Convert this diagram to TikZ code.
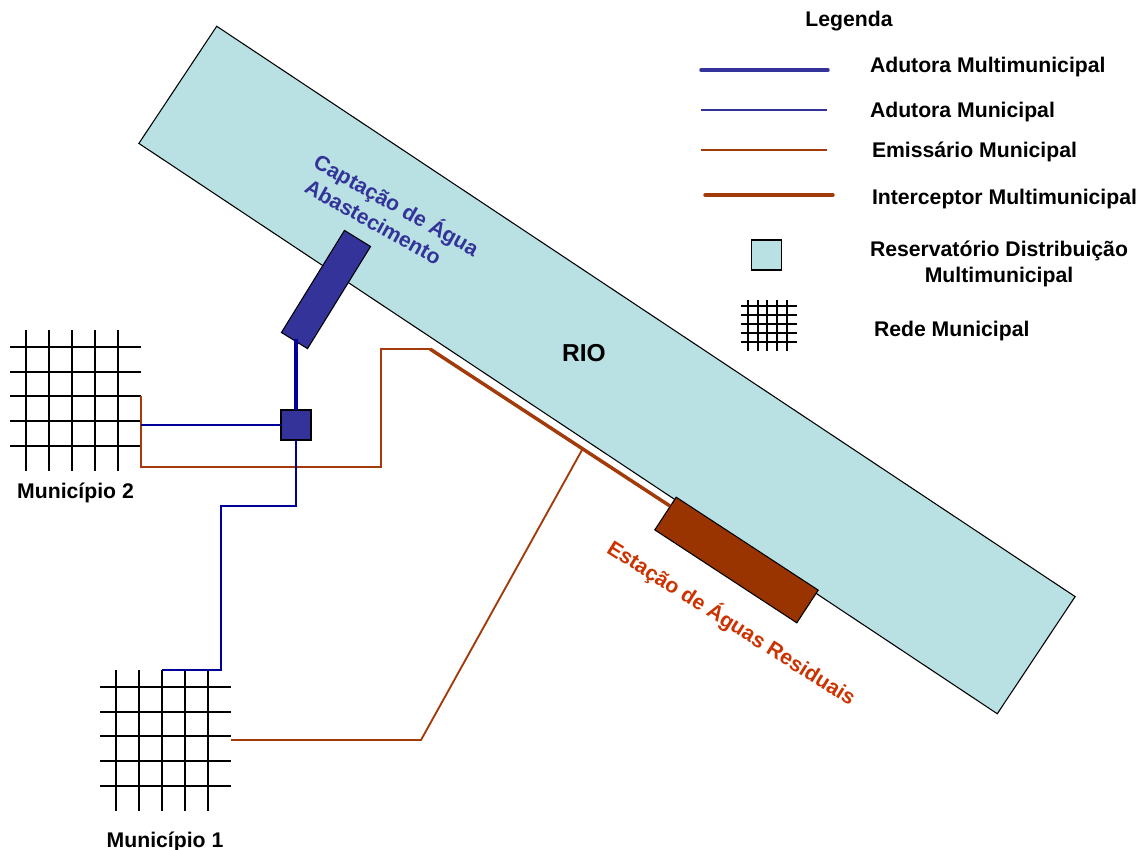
\documentclass[tikz,border=0pt]{standalone}
\usepackage{fontspec}
\setmainfont{Liberation Sans}
\definecolor{riverfill}{HTML}{B9E0E3}
\definecolor{bluefill}{HTML}{333399}
\definecolor{blueline}{HTML}{000099}
\definecolor{brownfill}{HTML}{993300}
\definecolor{brownline}{HTML}{A33A0A}
\definecolor{browntext}{HTML}{CC3300}
\tikzset{
  x=0.75pt,y=-0.75pt,
  box/.style={draw=black,line width=0.8pt,inner sep=0pt,outer sep=0pt},
  label/.style={font=\bfseries\fontsize{15.9}{19.5}\selectfont,inner sep=0pt,outer sep=0pt,align=center,text=black},
  adutoramulti/.style={draw=blueline,line width=2.6pt},
  adutoramun/.style={draw=blueline,line width=1.4pt},
  emissario/.style={draw=brownline,line width=1.4pt},
  interceptor/.style={draw=brownline,line width=2.6pt},
  legadutoramulti/.style={draw=bluefill,line width=2.6pt,line cap=round},
  legadutoramun/.style={draw=bluefill,line width=1.4pt},
  gridline/.style={draw=black,line width=1.3pt},
}
\newcommand{\citygrid}[3]{%
  \foreach \vx in {16,39,62,85,108} \draw[gridline] (#1+\vx,#2) -- (#1+\vx,#2+141);
  \foreach \hy in {17,42,66,91,116} \draw[gridline] (#1,#2+\hy) -- (#1+131,#2+\hy);
}
\begin{document}
\begin{tikzpicture}
\useasboundingbox (0,0) rectangle (1147,850);
% river
\node[box,fill=riverfill,rotate=-33.6,minimum width=773pt,minimum height=105.5pt] (river) at (607,370) {};
\node[label,font=\bfseries\fontsize{18.4}{20}\selectfont] (riolabel) at (584,353) {RIO};
% grids
\citygrid{10}{330}{m2}
\citygrid{100}{670}{m1}
\node[label] (m2label) at (75.5,493) {Município 2};
\node[label] (m1label) at (165,841.5) {Município 1};
% coordinates
\coordinate (intakeout) at (296,339);
\coordinate (m2water) at (141,425);
\coordinate (m1water) at (162,670);
\coordinate (m2sewer) at (141,396);
\coordinate (m1sewer) at (231,740);
\coordinate (interstart) at (430,349);
\coordinate (interend) at (670,506);
\coordinate (tee) at (582,450);
% reservoir & works
\node[box,fill=bluefill,rotate=58.3,minimum width=90pt,minimum height=23pt] (intake) at (326,289.5) {};
\node[box,fill=bluefill,minimum width=22.5pt,minimum height=22.5pt] (res) at (296,425) {};
\node[box,fill=brownfill,rotate=-33.2,minimum width=127.3pt,minimum height=29.3pt] (etar) at (736.5,560) {};
% connectors
\draw[emissario] (m2sewer) -- (141,467) -- (381,467) -- (381,349) -- (interstart);
\draw[adutoramun] (res.south) -- (296,506) -- (221,506) -- (221,670) -- (m1water);
\draw[adutoramun] (m2water) -- (res.west);
\draw[adutoramulti] (intakeout) -- (res.north);
\draw[interceptor] (interstart) -- (interend);
\draw[emissario] (m1sewer) -- (421,740) -- (tee);
% rotated labels
\node[label,text=bluefill,rotate=-29.2] (captlabel) at (391,215) {Captação de Água\\Abastecimento\hspace*{18pt}};
\node[label,text=browntext,rotate=-32.2] (etarlabel) at (731.5,623) {Estação de Águas Residuais};
% legend
\node[label] (legtitle) at (849,21) {Legenda};
\coordinate (l1a) at (701,70); \coordinate (l1b) at (828,70);
\coordinate (l2a) at (701,110); \coordinate (l2b) at (827,110);
\coordinate (l3a) at (701,150); \coordinate (l3b) at (827,150);
\coordinate (l4a) at (705,195); \coordinate (l4b) at (833,195);
\draw[legadutoramulti] (l1a) -- (l1b);
\draw[legadutoramun] (l2a) -- (l2b);
\draw[emissario] (l3a) -- (l3b);
\draw[interceptor,line cap=round] (l4a) -- (l4b);
\node[box,fill=riverfill,minimum width=22.5pt,minimum height=22.5pt] (legres) at (766.5,255) {};
\foreach \vx in {748,758,767,777,787} \draw[gridline] (\vx,300) -- (\vx,351);
\foreach \hy in {306,315,324,333,342} \draw[gridline] (741,\hy) -- (797,\hy);
\node[label,anchor=base west] (t1) at (870,72) {Adutora Multimunicipal};
\node[label,anchor=base west] (t2) at (870,117) {Adutora Municipal};
\node[label,anchor=base west] (t3) at (872,157) {Emissário Municipal};
\node[label,anchor=base west] (t4) at (872,204) {Interceptor Multimunicipal};
\node[label] (t5) at (999,264) {Reservatório Distribuição\\Multimunicipal};
\node[label,anchor=base west] (t6) at (874,336) {Rede Municipal};
\end{tikzpicture}
\end{document}
